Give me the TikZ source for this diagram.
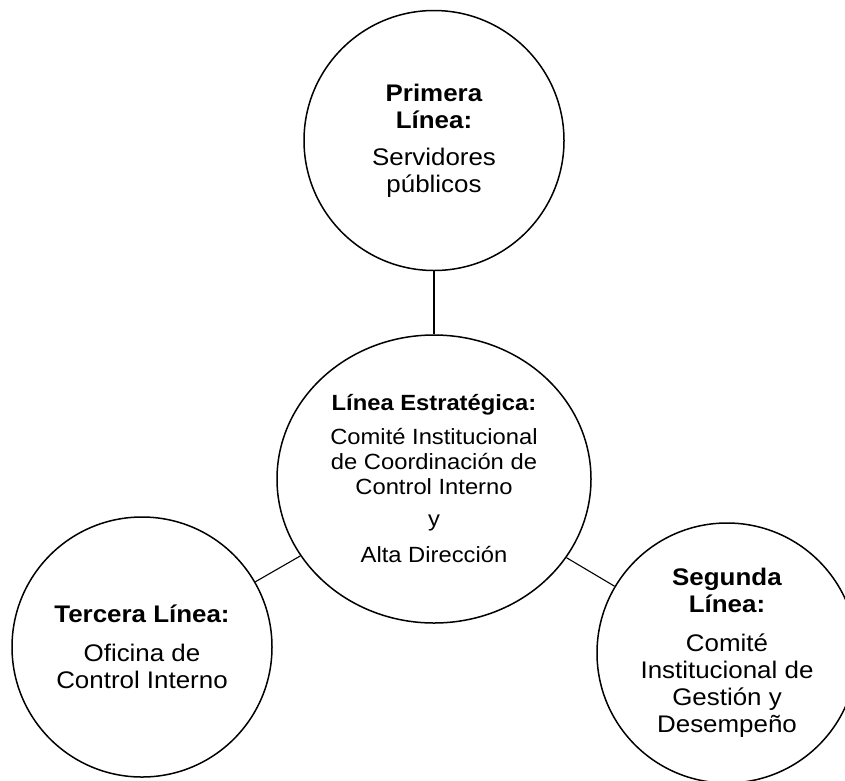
\documentclass[tikz,border=0pt]{standalone}
\usepackage{fontspec}
\setmainfont{Liberation Sans}[FakeStretch=1.08]
\usetikzlibrary{positioning,shapes.geometric}

\begin{document}
\begin{tikzpicture}[
  x=1pt, y=-1pt,
  line/.style={draw=black, line width=1.1pt},
  bubble/.style={ellipse, draw=black, line width=1.5pt, minimum width=260pt, minimum height=260pt, inner sep=0pt, align=center, font=\fontsize{24}{27}\selectfont},
  core/.style={bubble, minimum width=314pt, minimum height=288pt, font=\fontsize{22}{25}\selectfont}
]
\useasboundingbox (0,0) rectangle (845,780);
\clip (0,0) rectangle (845,780);

\node[core] (strategic) at (434,479) {\textbf{Línea Estratégica:}\\[9pt] Comité Institucional\\de Coordinación de\\Control Interno\\[7pt] y\\[11pt] Alta Dirección};
\node[bubble, above=63pt of strategic] (first) {\textbf{Primera}\\\textbf{Línea:}\\[10pt] Servidores\\públicos};
\node[bubble] (third) at (142,647) {\textbf{Tercera Línea:}\\[12pt] Oficina de\\Control Interno};
\node[bubble] (second) at (727,653) {\textbf{Segunda}\\\textbf{Línea:}\\[12pt] Comité\\Institucional de\\Gestión y\\Desempeño};

\draw[line] (strategic) -- (first);
\draw[line] (strategic) -- (third);
\draw[line] (strategic) -- (second);

\end{tikzpicture}
\end{document}
